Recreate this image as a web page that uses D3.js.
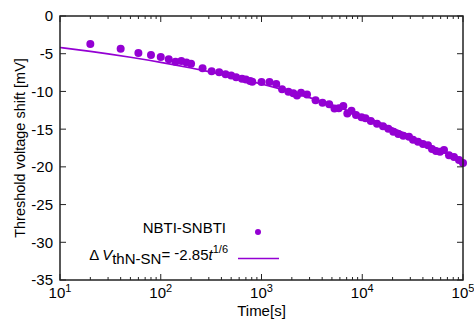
<!DOCTYPE html>
<html><head><meta charset="utf-8">
<script src="https://cdn.jsdelivr.net/npm/d3@7"></script>
<style>body{margin:0;background:#fff}svg{display:block;font-family:"Liberation Sans",Arial,sans-serif}</style>
</head><body><svg id="c" width="474" height="322"></svg>
<script>
const times = [20,40,60,80,100,120,140,160,180,200,260,320,380,440,500,560,640,700,770,810,
 1000,1200,1400,1600,1850,2070,2250,2470,2830,3440,4030,4700,5300,5850,6490,7110,7820,8670,9830,
 10770,12160,14010,16070,18140,20330,22800,25550,29110,31900,35750,40090,44940,49230,53950,59120,64780,72610,81400,91230,100000];
const shifts = [-3.71,-4.34,-4.91,-5.17,-5.44,-5.74,-6.06,-5.97,-6.16,-6.32,-6.93,-7.32,-7.46,-7.73,-7.89,-8.13,-8.31,-8.42,-8.62,-8.71,
 -8.75,-8.75,-9.01,-9.70,-10.05,-10.25,-10.54,-10.18,-10.41,-11.16,-11.51,-11.69,-12.26,-12.24,-11.93,-12.93,-12.55,-13.12,-13.43,
 -13.56,-13.92,-14.28,-14.62,-14.94,-15.34,-15.64,-15.87,-16.01,-16.40,-16.67,-16.97,-17.14,-17.63,-17.90,-17.99,-17.76,-18.47,-18.69,-19.09,-19.49];
const fitTimes = [10,20,30,50,100,200,300,500,1000,2000,3000,5000,10000,20000,30000,50000,100000];
const fitValues = [-4.18,-4.70,-5.02,-5.47,-6.14,-6.89,-7.37,-8.03,-9.01,-10.12,-10.82,-11.79,-13.23,-14.85,-15.88,-17.30,-19.42];
const xTickExps = [1,2,3,4,5];
const yTicks = [0,-5,-10,-15,-20,-25,-30,-35];
const color = "#9400D3";

const svg = d3.select("#c");
const L=60,R=463,T=16,B=280;
const x = d3.scaleLog().domain([10,1e5]).range([L,R]);
const y = d3.scaleLinear().domain([-35,0]).range([B,T]);

// data
const pts = times.map((t,i)=>({t, v:shifts[i]}));
svg.append("path").datum(fitTimes.map((t,i)=>({t,v:fitValues[i]})))
  .attr("fill","none").attr("stroke",color).attr("stroke-width",1.7)
  .attr("d", d3.line().x(d=>x(d.t)).y(d=>y(d.v)).curve(d3.curveMonotoneX));
svg.append("g").selectAll("circle").data(pts).join("circle")
  .attr("cx",d=>x(d.t)).attr("cy",d=>y(d.v)).attr("r",4).attr("fill",color);

// frame ticks
const tk = svg.append("g").attr("stroke","#222").attr("stroke-width",1);
const minor = [];
for (let e=1;e<5;e++) for (let m=2;m<=9;m++) minor.push(m*Math.pow(10,e));
minor.forEach(t=>{
  tk.append("line").attr("x1",x(t)).attr("x2",x(t)).attr("y1",B).attr("y2",B-3);
  tk.append("line").attr("x1",x(t)).attr("x2",x(t)).attr("y1",T).attr("y2",T+3);
});
xTickExps.forEach(e=>{
  const t=Math.pow(10,e);
  tk.append("line").attr("x1",x(t)).attr("x2",x(t)).attr("y1",B).attr("y2",B-6);
  tk.append("line").attr("x1",x(t)).attr("x2",x(t)).attr("y1",T).attr("y2",T+6);
});
yTicks.forEach(v=>{
  tk.append("line").attr("x1",L).attr("x2",L+6).attr("y1",y(v)).attr("y2",y(v));
  tk.append("line").attr("x1",R).attr("x2",R-6).attr("y1",y(v)).attr("y2",y(v));
});
svg.append("rect").attr("x",L).attr("y",T).attr("width",R-L).attr("height",B-T)
  .attr("fill","none").attr("stroke","#222").attr("stroke-width",1.5);

// tick labels
const fs=15;
yTicks.forEach(v=>{
  svg.append("text").attr("x",L-7).attr("y",y(v)).attr("dy","0.36em")
    .attr("text-anchor","end").attr("font-size",fs).attr("fill","#000").text(v);
});
xTickExps.forEach(e=>{
  const t=svg.append("text").attr("x",x(Math.pow(10,e))).attr("y",B+18)
    .attr("text-anchor","middle").attr("font-size",fs).attr("fill","#000");
  t.append("tspan").text("10");
  t.append("tspan").attr("dy",-6).attr("font-size",11).text(e);
});
svg.append("text").attr("x",(L+R)/2).attr("y",B+36).attr("text-anchor","middle")
  .attr("font-size",fs).text("Time[s]");
svg.append("text").attr("transform",`translate(25,${(T+B)/2}) rotate(-90)`)
  .attr("text-anchor","middle").attr("font-size",14.5).text("Threshold voltage shift [mV]");

// legend
svg.append("text").attr("x",226).attr("y",233).attr("text-anchor","end").attr("font-size",fs).text("NBTI-SNBTI");
svg.append("circle").attr("cx",258).attr("cy",232).attr("r",3).attr("fill",color);
const lt = svg.append("text").attr("x",228).attr("y",260).attr("text-anchor","end").attr("font-size",fs);
lt.append("tspan").text("Δ\u2009");
lt.append("tspan").attr("font-style","italic").text("V");
lt.append("tspan").attr("dy",4).text("thN-SN");
lt.append("tspan").attr("dy",-4).text("= ");
lt.append("tspan").attr("dy",-2).text("-");
lt.append("tspan").attr("dy",2).text("2.85");
lt.append("tspan").attr("font-style","italic").text("t");
lt.append("tspan").attr("dy",-7).attr("font-size",11).text("1/6");
svg.append("line").attr("x1",238).attr("x2",279).attr("y1",258.5).attr("y2",258.5)
  .attr("stroke",color).attr("stroke-width",1.7);
</script></body></html>
